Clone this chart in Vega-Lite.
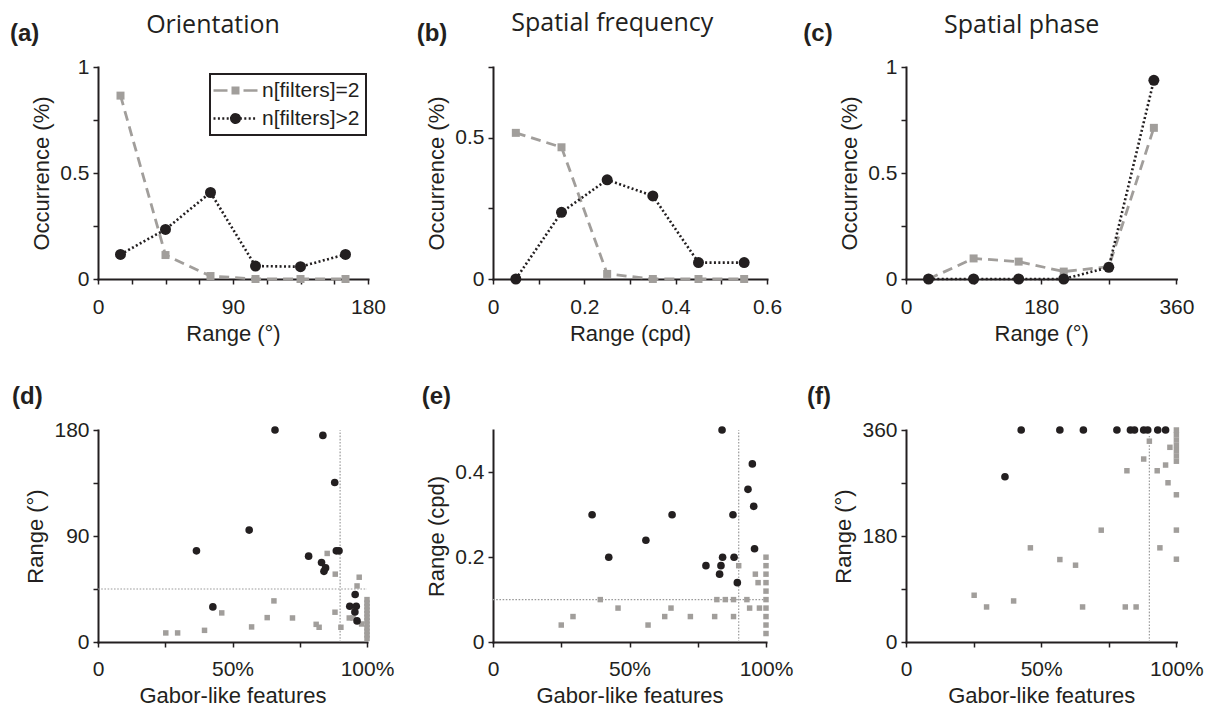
{
  "$schema": "https://vega.github.io/schema/vega-lite/v6.json",
  "background": "white",
  "padding": {"left": 0, "top": 11, "right": 0, "bottom": 0},
  "config": {
    "view": {"stroke": null},
    "font": "Liberation Sans",
    "title": {"font": "Open Sans", "fontSize": 25, "fontWeight": "normal", "color": "#231f20"},
    "axis": {"grid": false, "labelFlush": false, "labelOverlap": false, "labelBound": false, "domainColor": "#231f20", "domainWidth": 2, "domainCap": "square", "tickColor": "#231f20", "tickWidth": 1.5, "tickSize": 5, "labelFont": "Liberation Sans", "labelFontSize": 21, "labelColor": "#231f20", "titleFont": "Liberation Sans", "titleFontSize": 22, "titleFontWeight": "normal", "titleColor": "#231f20", "labelPadding": 4, "titlePadding": 6},
    "axisX": {"labelPadding": 12, "titlePadding": 6},
    "legend": {"strokeWidth": 2}
  },
  "resolve": {
    "scale": {"fill": "independent", "stroke": "independent", "shape": "independent", "strokeDash": "independent"},
    "legend": {"fill": "independent", "stroke": "independent", "shape": "independent", "strokeDash": "independent"}
  },
  "datasets": {
    "occ_a": [
      {"x": 15, "y": 0.865, "series": "n[filters]=2"}, {"x": 45, "y": 0.113, "series": "n[filters]=2"}, {"x": 75, "y": 0.014, "series": "n[filters]=2"}, {"x": 105, "y": 0, "series": "n[filters]=2"}, {"x": 135, "y": 0, "series": "n[filters]=2"}, {"x": 165, "y": 0, "series": "n[filters]=2"},
      {"x": 15, "y": 0.116, "series": "n[filters]>2"}, {"x": 45, "y": 0.234, "series": "n[filters]>2"}, {"x": 75, "y": 0.408, "series": "n[filters]>2"}, {"x": 105, "y": 0.061, "series": "n[filters]>2"}, {"x": 135, "y": 0.058, "series": "n[filters]>2"}, {"x": 165, "y": 0.116, "series": "n[filters]>2"}
    ],
    "occ_b": [
      {"x": 0.05, "y": 0.517, "series": "n[filters]=2"}, {"x": 0.15, "y": 0.466, "series": "n[filters]=2"}, {"x": 0.25, "y": 0.018, "series": "n[filters]=2"}, {"x": 0.35, "y": 0, "series": "n[filters]=2"}, {"x": 0.45, "y": 0, "series": "n[filters]=2"}, {"x": 0.55, "y": 0, "series": "n[filters]=2"},
      {"x": 0.05, "y": 0, "series": "n[filters]>2"}, {"x": 0.15, "y": 0.236, "series": "n[filters]>2"}, {"x": 0.25, "y": 0.351, "series": "n[filters]>2"}, {"x": 0.35, "y": 0.294, "series": "n[filters]>2"}, {"x": 0.45, "y": 0.058, "series": "n[filters]>2"}, {"x": 0.55, "y": 0.058, "series": "n[filters]>2"}
    ],
    "occ_c": [
      {"x": 30, "y": 0, "series": "n[filters]=2"}, {"x": 90, "y": 0.097, "series": "n[filters]=2"}, {"x": 150, "y": 0.082, "series": "n[filters]=2"}, {"x": 210, "y": 0.035, "series": "n[filters]=2"}, {"x": 270, "y": 0.058, "series": "n[filters]=2"}, {"x": 330, "y": 0.713, "series": "n[filters]=2"},
      {"x": 30, "y": 0, "series": "n[filters]>2"}, {"x": 90, "y": 0, "series": "n[filters]>2"}, {"x": 150, "y": 0, "series": "n[filters]>2"}, {"x": 210, "y": 0, "series": "n[filters]>2"}, {"x": 270, "y": 0.055, "series": "n[filters]>2"}, {"x": 330, "y": 0.937, "series": "n[filters]>2"}
    ],
    "sc_d": [
      {"x": 65.8, "y": 180, "series": "n[filters]>2"}, {"x": 83.6, "y": 175.4, "series": "n[filters]>2"}, {"x": 88, "y": 135.4, "series": "n[filters]>2"}, {"x": 56.2, "y": 95, "series": "n[filters]>2"}, {"x": 36.6, "y": 77.4, "series": "n[filters]>2"}, {"x": 88.6, "y": 77.4, "series": "n[filters]>2"}, {"x": 89.6, "y": 77.4, "series": "n[filters]>2"}, {"x": 78.3, "y": 72.9, "series": "n[filters]>2"}, {"x": 83.1, "y": 67.5, "series": "n[filters]>2"}, {"x": 84.6, "y": 62.9, "series": "n[filters]>2"}, {"x": 84, "y": 60, "series": "n[filters]>2"}, {"x": 42.7, "y": 29.8, "series": "n[filters]>2"}, {"x": 95.6, "y": 40.3, "series": "n[filters]>2"}, {"x": 93.6, "y": 30.4, "series": "n[filters]>2"}, {"x": 96, "y": 30.4, "series": "n[filters]>2"}, {"x": 95.5, "y": 25.5, "series": "n[filters]>2"}, {"x": 96.3, "y": 17.9, "series": "n[filters]>2"},
      {"x": 25.2, "y": 7.7, "series": "n[filters]=2"}, {"x": 29.6, "y": 7.7, "series": "n[filters]=2"}, {"x": 39.6, "y": 9.9, "series": "n[filters]=2"}, {"x": 46, "y": 24.7, "series": "n[filters]=2"}, {"x": 57.1, "y": 12.8, "series": "n[filters]=2"}, {"x": 62.9, "y": 20.7, "series": "n[filters]=2"}, {"x": 65.4, "y": 34.9, "series": "n[filters]=2"}, {"x": 72.3, "y": 20.4, "series": "n[filters]=2"}, {"x": 81.1, "y": 15, "series": "n[filters]=2"}, {"x": 82.2, "y": 12.5, "series": "n[filters]=2"}, {"x": 85.2, "y": 75.2, "series": "n[filters]=2"}, {"x": 88.2, "y": 57.6, "series": "n[filters]=2"}, {"x": 88.1, "y": 25.3, "series": "n[filters]=2"}, {"x": 90.3, "y": 12.5, "series": "n[filters]=2"}, {"x": 97.1, "y": 55, "series": "n[filters]=2"}, {"x": 96.3, "y": 47.6, "series": "n[filters]=2"}, {"x": 93.4, "y": 20.4, "series": "n[filters]=2"}, {"x": 94.8, "y": 20.4, "series": "n[filters]=2"}, {"x": 98, "y": 15.3, "series": "n[filters]=2"},
      {"x": 100, "y": 36, "series": "n[filters]=2"}, {"x": 100, "y": 33, "series": "n[filters]=2"}, {"x": 100, "y": 30, "series": "n[filters]=2"}, {"x": 100, "y": 27, "series": "n[filters]=2"}, {"x": 100, "y": 24, "series": "n[filters]=2"}, {"x": 100, "y": 21, "series": "n[filters]=2"}, {"x": 100, "y": 18, "series": "n[filters]=2"}, {"x": 100, "y": 15, "series": "n[filters]=2"}, {"x": 100, "y": 12, "series": "n[filters]=2"}, {"x": 100, "y": 9, "series": "n[filters]=2"}, {"x": 100, "y": 6, "series": "n[filters]=2"}, {"x": 100, "y": 3, "series": "n[filters]=2"}
    ],
    "sc_e": [
      {"x": 83.9, "y": 0.5, "series": "n[filters]>2"}, {"x": 95, "y": 0.42, "series": "n[filters]>2"}, {"x": 93.4, "y": 0.36, "series": "n[filters]>2"}, {"x": 95.5, "y": 0.32, "series": "n[filters]>2"}, {"x": 87.9, "y": 0.3, "series": "n[filters]>2"}, {"x": 36.3, "y": 0.3, "series": "n[filters]>2"}, {"x": 65.6, "y": 0.3, "series": "n[filters]>2"}, {"x": 56, "y": 0.24, "series": "n[filters]>2"}, {"x": 42.4, "y": 0.2, "series": "n[filters]>2"}, {"x": 95.8, "y": 0.22, "series": "n[filters]>2"}, {"x": 84.1, "y": 0.2, "series": "n[filters]>2"}, {"x": 88.3, "y": 0.2, "series": "n[filters]>2"}, {"x": 78, "y": 0.18, "series": "n[filters]>2"}, {"x": 83.5, "y": 0.18, "series": "n[filters]>2"}, {"x": 83, "y": 0.16, "series": "n[filters]>2"}, {"x": 89.5, "y": 0.14, "series": "n[filters]>2"},
      {"x": 90, "y": 0.18, "series": "n[filters]=2"}, {"x": 100, "y": 0.2, "series": "n[filters]=2"}, {"x": 100, "y": 0.18, "series": "n[filters]=2"}, {"x": 100, "y": 0.16, "series": "n[filters]=2"}, {"x": 100, "y": 0.14, "series": "n[filters]=2"}, {"x": 100, "y": 0.12, "series": "n[filters]=2"}, {"x": 100, "y": 0.1, "series": "n[filters]=2"}, {"x": 100, "y": 0.08, "series": "n[filters]=2"}, {"x": 100, "y": 0.06, "series": "n[filters]=2"}, {"x": 100, "y": 0.04, "series": "n[filters]=2"}, {"x": 100, "y": 0.02, "series": "n[filters]=2"}, {"x": 96.1, "y": 0.16, "series": "n[filters]=2"}, {"x": 97.1, "y": 0.14, "series": "n[filters]=2"}, {"x": 82, "y": 0.1, "series": "n[filters]=2"}, {"x": 85.1, "y": 0.1, "series": "n[filters]=2"}, {"x": 88.1, "y": 0.1, "series": "n[filters]=2"}, {"x": 93, "y": 0.1, "series": "n[filters]=2"}, {"x": 39.3, "y": 0.1, "series": "n[filters]=2"}, {"x": 94, "y": 0.08, "series": "n[filters]=2"}, {"x": 97.6, "y": 0.08, "series": "n[filters]=2"}, {"x": 45.8, "y": 0.08, "series": "n[filters]=2"}, {"x": 65.2, "y": 0.08, "series": "n[filters]=2"}, {"x": 72.3, "y": 0.06, "series": "n[filters]=2"}, {"x": 81.2, "y": 0.06, "series": "n[filters]=2"}, {"x": 88.1, "y": 0.06, "series": "n[filters]=2"}, {"x": 29.3, "y": 0.06, "series": "n[filters]=2"}, {"x": 62.9, "y": 0.06, "series": "n[filters]=2"}, {"x": 25, "y": 0.04, "series": "n[filters]=2"}, {"x": 56.8, "y": 0.04, "series": "n[filters]=2"}
    ],
    "sc_f": [
      {"x": 42.6, "y": 360, "series": "n[filters]>2"}, {"x": 56.9, "y": 360, "series": "n[filters]>2"}, {"x": 65.6, "y": 360, "series": "n[filters]>2"}, {"x": 78, "y": 360, "series": "n[filters]>2"}, {"x": 83, "y": 360, "series": "n[filters]>2"}, {"x": 84.5, "y": 360, "series": "n[filters]>2"}, {"x": 87.9, "y": 360, "series": "n[filters]>2"}, {"x": 89.4, "y": 360, "series": "n[filters]>2"}, {"x": 93.1, "y": 360, "series": "n[filters]>2"}, {"x": 96, "y": 360, "series": "n[filters]>2"}, {"x": 36.6, "y": 280.6, "series": "n[filters]>2"},
      {"x": 25.2, "y": 79.4, "series": "n[filters]=2"}, {"x": 29.8, "y": 59.5, "series": "n[filters]=2"}, {"x": 39.8, "y": 69.7, "series": "n[filters]=2"}, {"x": 46, "y": 159.9, "series": "n[filters]=2"}, {"x": 56.9, "y": 140, "series": "n[filters]=2"}, {"x": 62.7, "y": 130.4, "series": "n[filters]=2"}, {"x": 65.3, "y": 59.5, "series": "n[filters]=2"}, {"x": 72.2, "y": 189.9, "series": "n[filters]=2"}, {"x": 81.1, "y": 59.5, "series": "n[filters]=2"}, {"x": 85.1, "y": 59.5, "series": "n[filters]=2"}, {"x": 81.7, "y": 290.8, "series": "n[filters]=2"}, {"x": 87.9, "y": 310.7, "series": "n[filters]=2"}, {"x": 90, "y": 341, "series": "n[filters]=2"}, {"x": 92.9, "y": 290.8, "series": "n[filters]=2"}, {"x": 96, "y": 300.5, "series": "n[filters]=2"}, {"x": 93.9, "y": 159.9, "series": "n[filters]=2"}, {"x": 96.9, "y": 270.4, "series": "n[filters]=2"}, {"x": 97.6, "y": 330.6, "series": "n[filters]=2"},
      {"x": 100, "y": 360, "series": "n[filters]=2"}, {"x": 100, "y": 352, "series": "n[filters]=2"}, {"x": 100, "y": 343, "series": "n[filters]=2"}, {"x": 100, "y": 334, "series": "n[filters]=2"}, {"x": 100, "y": 325, "series": "n[filters]=2"}, {"x": 100, "y": 316, "series": "n[filters]=2"}, {"x": 100, "y": 307, "series": "n[filters]=2"}, {"x": 100, "y": 250, "series": "n[filters]=2"}, {"x": 100, "y": 190, "series": "n[filters]=2"}, {"x": 100, "y": 140.6, "series": "n[filters]=2"}
    ],
    "ref_d": [{"x": 90, "y": 0, "x2": 90, "y2": 180}, {"x": 0, "y": 45, "x2": 100, "y2": 45}],
    "ref_e": [{"x": 90, "y": 0, "x2": 90, "y2": 0.5}, {"x": 0, "y": 0.1, "x2": 100, "y2": 0.1}],
    "ref_f": [{"x": 90, "y": 0, "x2": 90, "y2": 350}]
  },
  "columns": 6,
  "align": "each",
  "bounds": "flush",
  "spacing": {"row": 151, "column": 0},
  "concat": [
    {"width": 98, "height": 212, "title": {"text": "(a)", "anchor": "start", "frame": "group", "dx": 10, "offset": 2, "baseline": "alphabetic", "font": "Liberation Sans", "fontWeight": "bold", "fontSize": 24}, "data": {"values": []}, "mark": "point"},
    {
      "width": 270, "height": 212,
      "title": {"text": "Orientation", "anchor": "middle", "frame": "group", "dx": -20, "offset": -2, "baseline": "alphabetic"},
      "data": {"name": "occ_a"},
      "encoding": {
        "x": {"field": "x", "type": "quantitative", "scale": {"domain": [0, 180], "nice": false, "zero": false}, "axis": {"title": "Range (°)", "values": [0, 22.5, 45, 67.5, 90, 112.5, 135, 157.5, 180], "labelExpr": "datum.value % 90 == 0 ? '' + datum.value : ''"}},
        "y": {"field": "y", "type": "quantitative", "scale": {"domain": [0, 1], "nice": false}, "axis": {"title": "Occurrence (%)", "values": [0, 0.25, 0.5, 0.75, 1], "labelExpr": "datum.value == 0.25 || datum.value == 0.75 ? '' : '' + datum.value"}}
      },
      "layer": [
        {"transform": [{"filter": "datum.series === 'n[filters]=2'"}], "mark": {"type": "line", "stroke": "#a19e9b", "strokeWidth": 2.8, "strokeDash": [10, 6]}},
        {"transform": [{"filter": "datum.series === 'n[filters]=2'"}], "mark": {"type": "point", "shape": "square", "filled": true, "color": "#a19e9b", "size": 64, "opacity": 1}},
        {"transform": [{"filter": "datum.series === 'n[filters]>2'"}], "mark": {"type": "line", "stroke": "#231f20", "strokeWidth": 2.6, "strokeDash": [2, 2.4]}},
        {"transform": [{"filter": "datum.series === 'n[filters]>2'"}], "mark": {"type": "point", "shape": "circle", "filled": true, "color": "#231f20", "size": 121, "opacity": 1}},
        {
          "data": {"values": []},
          "mark": {"type": "point", "filled": true, "opacity": 1},
          "encoding": {
            "fill": {"field": "series", "type": "nominal", "scale": {"domain": ["n[filters]=2", "n[filters]>2"], "range": ["#a19e9b", "#231f20"]}, "legend": {"title": null, "orient": "none", "legendX": 112, "legendY": 7, "symbolSize": 100, "symbolStrokeWidth": 2.5, "symbolOffset": 9, "symbolOpacity": 1, "labelOffset": 16, "labelFontSize": 21, "labelFont": "Liberation Sans", "labelColor": "#231f20", "padding": 6, "rowPadding": 6, "strokeColor": "#231f20", "fillColor": "white", "labelLimit": 400}},
            "stroke": {"field": "series", "type": "nominal", "scale": {"domain": ["n[filters]=2", "n[filters]>2"], "range": ["#a19e9b", "#231f20"]}, "legend": {"title": null, "orient": "none", "legendX": 112, "legendY": 7, "symbolSize": 100, "symbolStrokeWidth": 2.5, "symbolOffset": 9, "symbolOpacity": 1, "labelOffset": 16, "labelFontSize": 21, "labelFont": "Liberation Sans", "labelColor": "#231f20", "padding": 6, "rowPadding": 6, "strokeColor": "#231f20", "fillColor": "white", "labelLimit": 400}},
            "shape": {"field": "series", "type": "nominal", "scale": {"domain": ["n[filters]=2", "n[filters]>2"], "range": ["M-4.4,0H-1.6M1.6,0H4.4M-0.55,-0.55H0.55V0.55H-0.55ZM0.55,0.55H-0.55V-0.55H0.55Z", "M-4.4,0H4.4M0.85,0A0.85,0.85,0,1,1,-0.85,0A0.85,0.85,0,1,1,0.85,0ZM0.7976,0.2938A0.85,0.85,0,1,1,-0.7976,-0.2938A0.85,0.85,0,1,1,0.7976,0.2938ZM0.6468,0.5515A0.85,0.85,0,1,1,-0.6468,-0.5515A0.85,0.85,0,1,1,0.6468,0.5515Z"]}, "legend": {"title": null, "orient": "none", "legendX": 112, "legendY": 7, "symbolSize": 100, "symbolStrokeWidth": 2.5, "symbolOffset": 9, "symbolOpacity": 1, "labelOffset": 16, "labelFontSize": 21, "labelFont": "Liberation Sans", "labelColor": "#231f20", "padding": 6, "rowPadding": 6, "strokeColor": "#231f20", "fillColor": "white", "labelLimit": 400}},
            "strokeDash": {"field": "series", "type": "nominal", "scale": {"domain": ["n[filters]=2", "n[filters]>2"], "range": [[16, 6], [2, 2.4]]}, "legend": {"title": null, "orient": "none", "legendX": 112, "legendY": 7, "symbolSize": 100, "symbolStrokeWidth": 2.5, "symbolOffset": 9, "symbolOpacity": 1, "labelOffset": 16, "labelFontSize": 21, "labelFont": "Liberation Sans", "labelColor": "#231f20", "padding": 6, "rowPadding": 6, "strokeColor": "#231f20", "fillColor": "white", "labelLimit": 400}}
          }
        }
      ]
    },
    {"width": 124.7, "height": 212, "title": {"text": "(b)", "anchor": "start", "frame": "group", "dx": 48.7, "offset": 2, "baseline": "alphabetic", "font": "Liberation Sans", "fontWeight": "bold", "fontSize": 24}, "data": {"values": []}, "mark": "point"},
    {
      "width": 274, "height": 212,
      "title": {"text": "Spatial frequency", "anchor": "middle", "frame": "group", "dx": -17.7, "offset": 0, "baseline": "alphabetic"},
      "data": {"name": "occ_b"},
      "encoding": {
        "x": {"field": "x", "type": "quantitative", "scale": {"domain": [0, 0.6], "nice": false, "zero": false}, "axis": {"title": "Range (cpd)", "values": [0, 0.1, 0.2, 0.3, 0.4, 0.5, 0.6], "labelExpr": "indexof([0.1, 0.3, 0.5], datum.value) >= 0 ? '' : '' + datum.value"}},
        "y": {"field": "y", "type": "quantitative", "scale": {"domain": [0, 0.75], "nice": false}, "axis": {"title": "Occurrence (%)", "values": [0, 0.25, 0.5, 0.75], "labelExpr": "datum.value == 0 || datum.value == 0.5 ? '' + datum.value : ''"}}
      },
      "layer": [
        {"transform": [{"filter": "datum.series === 'n[filters]=2'"}], "mark": {"type": "line", "stroke": "#a19e9b", "strokeWidth": 2.8, "strokeDash": [10, 6]}},
        {"transform": [{"filter": "datum.series === 'n[filters]=2'"}], "mark": {"type": "point", "shape": "square", "filled": true, "color": "#a19e9b", "size": 64, "opacity": 1}},
        {"transform": [{"filter": "datum.series === 'n[filters]>2'"}], "mark": {"type": "line", "stroke": "#231f20", "strokeWidth": 2.6, "strokeDash": [2, 2.4]}},
        {"transform": [{"filter": "datum.series === 'n[filters]>2'"}], "mark": {"type": "point", "shape": "circle", "filled": true, "color": "#231f20", "size": 121, "opacity": 1}}
      ]
    },
    {"width": 138.6, "height": 212, "title": {"text": "(c)", "anchor": "start", "frame": "group", "dx": 36.3, "offset": 2, "baseline": "alphabetic", "font": "Liberation Sans", "fontWeight": "bold", "fontSize": 24}, "data": {"values": []}, "mark": "point"},
    {
      "width": 270.4, "height": 212,
      "title": {"text": "Spatial phase", "anchor": "middle", "frame": "group", "dx": -19.5, "offset": -2, "baseline": "alphabetic"},
      "data": {"name": "occ_c"},
      "encoding": {
        "x": {"field": "x", "type": "quantitative", "scale": {"domain": [0, 360], "nice": false, "zero": false}, "axis": {"title": "Range (°)", "values": [0, 90, 180, 270, 360], "labelExpr": "datum.value % 180 == 0 ? '' + datum.value : ''"}},
        "y": {"field": "y", "type": "quantitative", "scale": {"domain": [0, 1], "nice": false}, "axis": {"title": "Occurrence (%)", "values": [0, 0.25, 0.5, 0.75, 1], "labelExpr": "datum.value == 0.25 || datum.value == 0.75 ? '' : '' + datum.value"}}
      },
      "layer": [
        {"transform": [{"filter": "datum.series === 'n[filters]=2'"}], "mark": {"type": "line", "stroke": "#a19e9b", "strokeWidth": 2.8, "strokeDash": [10, 6]}},
        {"transform": [{"filter": "datum.series === 'n[filters]=2'"}], "mark": {"type": "point", "shape": "square", "filled": true, "color": "#a19e9b", "size": 64, "opacity": 1}},
        {"transform": [{"filter": "datum.series === 'n[filters]>2'"}], "mark": {"type": "line", "stroke": "#231f20", "strokeWidth": 2.6, "strokeDash": [2, 2.4]}},
        {"transform": [{"filter": "datum.series === 'n[filters]>2'"}], "mark": {"type": "point", "shape": "circle", "filled": true, "color": "#231f20", "size": 121, "opacity": 1}}
      ]
    },
    {"width": 98, "height": 212, "title": {"text": "(d)", "anchor": "start", "frame": "group", "dx": 12, "offset": 2, "baseline": "alphabetic", "font": "Liberation Sans", "fontWeight": "bold", "fontSize": 24}, "data": {"values": []}, "mark": "point"},
    {
      "width": 269, "height": 212,
      "encoding": {
        "x": {"field": "x", "type": "quantitative", "scale": {"domain": [0, 100], "nice": false, "zero": false}, "axis": {"title": "Gabor-like features", "values": [0, 25, 50, 75, 100], "labelExpr": "datum.value == 0 ? '0' : datum.value == 50 ? '50%' : datum.value == 100 ? '100%' : ''", "labelPadding": 11}},
        "y": {"field": "y", "type": "quantitative", "scale": {"domain": [0, 180], "nice": false}, "axis": {"title": "Range (°)", "values": [0, 45, 90, 135, 180], "labelExpr": "datum.value % 90 == 0 ? '' + datum.value : ''"}}
      },
      "layer": [
        {"data": {"name": "ref_d"}, "mark": {"type": "rule", "color": "#9b9b9b", "strokeWidth": 1.2, "strokeDash": [1.6, 1.6]}, "encoding": {"x2": {"field": "x2"}, "y2": {"field": "y2"}}},
        {"data": {"name": "sc_d"}, "transform": [{"filter": "datum.series === 'n[filters]=2'"}], "mark": {"type": "point", "shape": "square", "filled": true, "color": "#a19e9b", "size": 30, "opacity": 1}},
        {"data": {"name": "sc_d"}, "transform": [{"filter": "datum.series === 'n[filters]>2'"}], "mark": {"type": "point", "shape": "circle", "filled": true, "color": "#231f20", "size": 58, "opacity": 1}}
      ]
    },
    {"width": 124.7, "height": 212, "title": {"text": "(e)", "anchor": "start", "frame": "group", "dx": 53.7, "offset": 2, "baseline": "alphabetic", "font": "Liberation Sans", "fontWeight": "bold", "fontSize": 24}, "data": {"values": []}, "mark": "point"},
    {
      "width": 273, "height": 212,
      "encoding": {
        "x": {"field": "x", "type": "quantitative", "scale": {"domain": [0, 100], "nice": false, "zero": false}, "axis": {"title": "Gabor-like features", "values": [0, 25, 50, 75, 100], "labelExpr": "datum.value == 0 ? '0' : datum.value == 50 ? '50%' : datum.value == 100 ? '100%' : ''", "labelPadding": 11}},
        "y": {"field": "y", "type": "quantitative", "scale": {"domain": [0, 0.5], "nice": false}, "axis": {"title": "Range (cpd)", "values": [0, 0.2, 0.4], "labelExpr": "'' + datum.value"}}
      },
      "layer": [
        {"data": {"name": "ref_e"}, "mark": {"type": "rule", "color": "#9b9b9b", "strokeWidth": 1.2, "strokeDash": [1.6, 1.6]}, "encoding": {"x2": {"field": "x2"}, "y2": {"field": "y2"}}},
        {"data": {"name": "sc_e"}, "transform": [{"filter": "datum.series === 'n[filters]=2'"}], "mark": {"type": "point", "shape": "square", "filled": true, "color": "#a19e9b", "size": 30, "opacity": 1}},
        {"data": {"name": "sc_e"}, "transform": [{"filter": "datum.series === 'n[filters]>2'"}], "mark": {"type": "point", "shape": "circle", "filled": true, "color": "#231f20", "size": 58, "opacity": 1}}
      ]
    },
    {"width": 138.6, "height": 212, "title": {"text": "(f)", "anchor": "start", "frame": "group", "dx": 40, "offset": 2, "baseline": "alphabetic", "font": "Liberation Sans", "fontWeight": "bold", "fontSize": 24}, "data": {"values": []}, "mark": "point"},
    {
      "width": 270.4, "height": 212,
      "encoding": {
        "x": {"field": "x", "type": "quantitative", "scale": {"domain": [0, 100], "nice": false, "zero": false}, "axis": {"title": "Gabor-like features", "values": [0, 25, 50, 75, 100], "labelExpr": "datum.value == 0 ? '0' : datum.value == 50 ? '50%' : datum.value == 100 ? '100%' : ''", "labelPadding": 11}},
        "y": {"field": "y", "type": "quantitative", "scale": {"domain": [0, 360], "nice": false}, "axis": {"title": "Range (°)", "values": [0, 90, 180, 270, 360], "labelExpr": "datum.value % 180 == 0 ? '' + datum.value : ''"}}
      },
      "layer": [
        {"data": {"name": "ref_f"}, "mark": {"type": "rule", "color": "#9b9b9b", "strokeWidth": 1.2, "strokeDash": [1.6, 1.6]}, "encoding": {"x2": {"field": "x2"}, "y2": {"field": "y2"}}},
        {"data": {"name": "sc_f"}, "transform": [{"filter": "datum.series === 'n[filters]=2'"}], "mark": {"type": "point", "shape": "square", "filled": true, "color": "#a19e9b", "size": 30, "opacity": 1}},
        {"data": {"name": "sc_f"}, "transform": [{"filter": "datum.series === 'n[filters]>2'"}], "mark": {"type": "point", "shape": "circle", "filled": true, "color": "#231f20", "size": 58, "opacity": 1}}
      ]
    }
  ]
}
